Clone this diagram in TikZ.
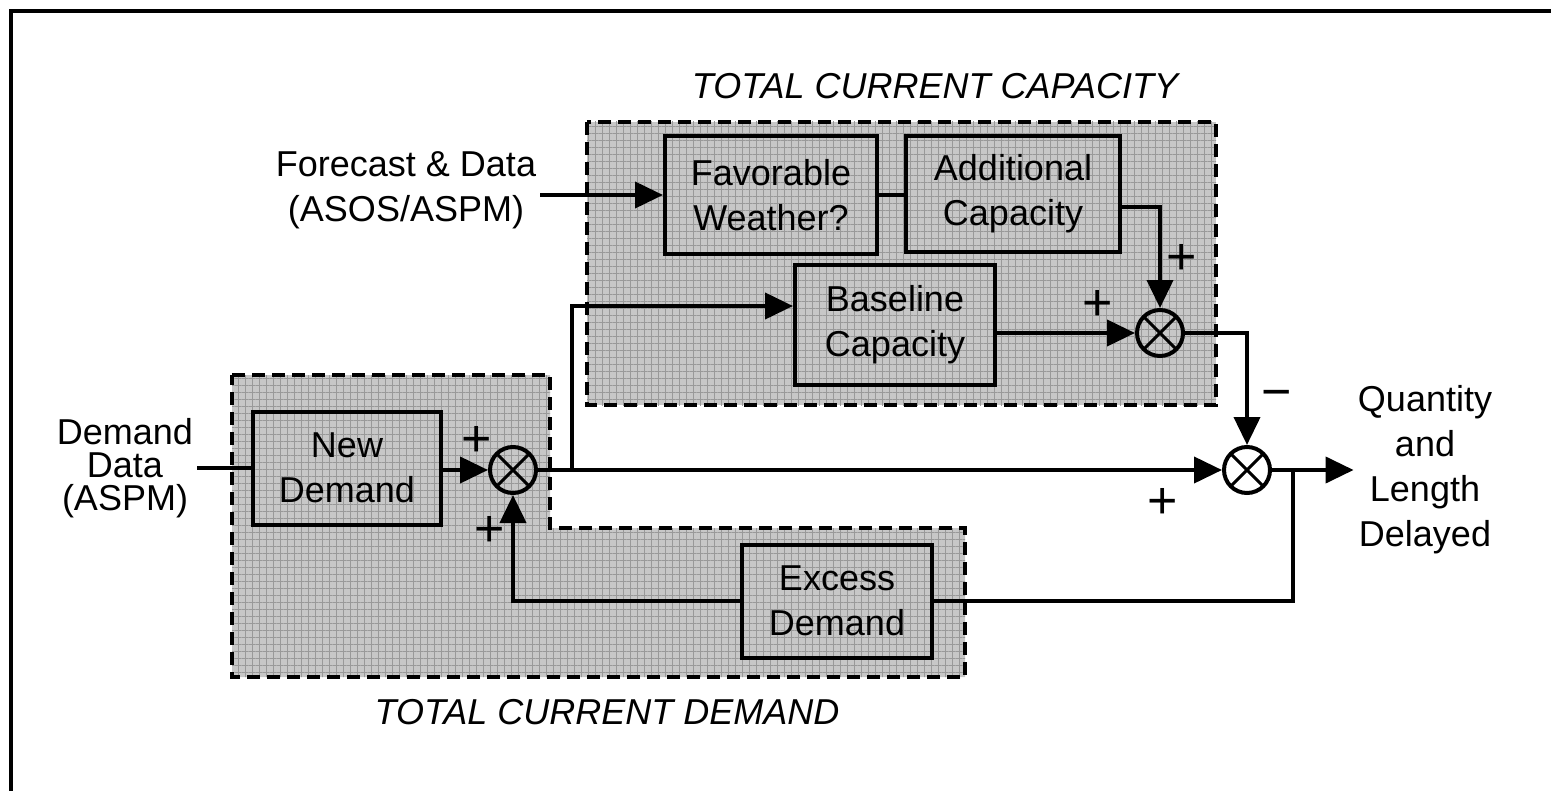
\documentclass[tikz,border=0pt]{standalone}
\usepackage{fontspec}
\setmainfont{Liberation Sans}
\usetikzlibrary{positioning, arrows.meta, patterns.meta}

\tikzset{
  block/.style={draw, line width=2pt, align=center, inner sep=0pt},
  sumjunc/.style={circle, draw, line width=2pt, minimum size=23pt, inner sep=0pt,
    path picture={\draw[line width=1.5pt] (path picture bounding box.north west) -- (path picture bounding box.south east)
      (path picture bounding box.north east) -- (path picture bounding box.south west);}},
  group/.style={draw, line width=2pt, dash pattern=on 6.5pt off 3.5pt,
    preaction={fill=black!22},
    preaction={pattern={Hatch[angle=0, distance=3.5pt, line width=0.4pt]}, pattern color=black!40}},
  wire/.style={line width=2pt},
  arr/.style={line width=2pt, -{Triangle[length=14pt, width=13pt]}},
  sign/.style={font=\fontsize{26}{26}\selectfont, inner sep=0pt},
  lbl/.style={align=center, inner sep=2pt},
}

\begin{document}
\begin{tikzpicture}[x=0.5pt, y=-0.5pt, font=\fontsize{18}{22.5}\selectfont]
  \useasboundingbox (0,0) rectangle (1551,791);
  % frame
  \draw[wire] (11,791) -- (11,11) -- (1551,11);

  % shaded groups
  \path[group] (587,122) rectangle (1216,405);
  \path[group] (232,375) -- (550,375) -- (550,528) -- (965,528) -- (965,677) -- (232,677) -- cycle;
  \node[font=\fontsize{18}{22.5}\selectfont\itshape] (captitle) at (935,86) {TOTAL CURRENT CAPACITY};
  \node[font=\fontsize{18}{22.5}\selectfont\itshape] (demtitle) at (607,712) {TOTAL CURRENT DEMAND};

  % blocks
  \node[block, minimum width=106pt, minimum height=59pt] (fav) at (771,195) {Favorable\\Weather?};
  \node[block, minimum width=107pt, minimum height=58pt] (addcap) at (1013,194) {Additional\\Capacity};
  \node[block, minimum width=100pt, minimum height=60pt] (basecap) at (895,325) {Baseline\\Capacity};
  \node[block, minimum width=94pt, minimum height=56.5pt] (newdem) at (347,468) {New\\Demand};
  \node[block, minimum width=95pt, minimum height=56.5pt] (excdem) at (837,601) {Excess\\Demand};

  % summing junctions
  \node[sumjunc] (sumcap) at (1160,333) {};
  \node[sumjunc] (sumdem) at (513,470) {};
  \node[sumjunc] (sumout) at (1247,470) {};

  % outer labels
  \node[lbl] (forecast) at (406,190) {Forecast \& Data\\(ASOS/ASPM)};
  \node[lbl, font=\fontsize{18}{16.5}\selectfont] (demdata) at (125,468) {Demand\\Data\\(ASPM)};
  \node[lbl] (outtext) at (1425,470) {Quantity\\and\\Length\\Delayed};

  % signs
  \node[sign] at (477,441) {+};
  \node[sign] at (490,531) {+};
  \node[sign] at (1098,305) {+};
  \node[sign] at (1182,259) {+};
  \node[sign] at (1163,503) {+};
  \node[sign] at (1277,400) {−};

  % connectors
  \coordinate (capsplit) at (572,470);
  \coordinate (fbsplit) at (1293,470);
  \draw[arr] (forecast.east |- fav) -- (fav.west);
  \draw[wire] (fav.east) -- (fav.east -| addcap.west);
  \draw[arr] ([yshift=-6.5pt]addcap.east) -| (sumcap.north);
  \draw[arr] (basecap.east |- sumcap) -- (sumcap.west);
  \draw[arr] (capsplit) |- ([yshift=9.5pt]basecap.west);
  \draw[arr] (sumcap.east) -| (sumout.north);
  \draw[wire] (demdata.east |- newdem) -- (newdem.west);
  \draw[arr] (newdem.east |- sumdem) -- (sumdem.west);
  \draw[arr] (sumdem.east) -- (sumout.west);
  \draw[arr] (sumout.east) -- (outtext.west);
  \draw[wire] (fbsplit) |- (excdem.east);
  \draw[arr] (excdem.west) -| (sumdem.south);
\end{tikzpicture}
\end{document}
